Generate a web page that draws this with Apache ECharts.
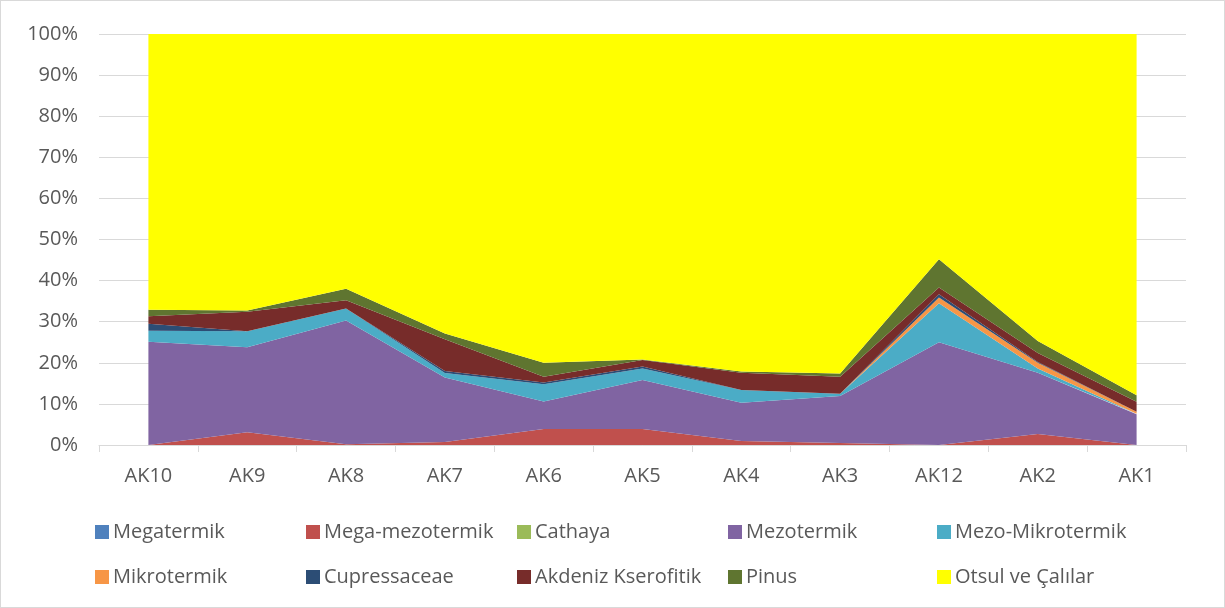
<!DOCTYPE html>
<html>
<head>
<meta charset="utf-8">
<script src="https://cdn.jsdelivr.net/npm/echarts@6/dist/echarts.min.js"></script>
<style>
  html, body { margin: 0; padding: 0; background: #fff; }
  #chart { width: 1225px; height: 608px; box-sizing: border-box; border: 1px solid #d9d9d9; }
</style>
</head>
<body>
<div id="chart"></div>
<script>
// Sample sites (x axis)
const categories = ['AK10', 'AK9', 'AK8', 'AK7', 'AK6', 'AK5', 'AK4', 'AK3', 'AK12', 'AK2', 'AK1'];

// Share of each pollen group per site (%)
const megatermik     = [0, 0, 0, 0, 0, 0, 0, 0, 0, 0, 0];
const megaMezotermik = [0, 3.1, 0.2, 0.7, 3.9, 3.9, 1.0, 0.5, 0, 2.7, 0];
const cathaya        = [0, 0, 0, 0, 0, 0, 0, 0, 0, 0, 0];
const mezotermik     = [25.1, 20.7, 30.1, 15.7, 6.7, 11.9, 9.3, 11.4, 25.0, 14.9, 7.5];
const mezoMikrotermik= [2.7, 3.9, 2.9, 1.1, 4.2, 2.8, 3.1, 0.6, 9.5, 1.0, 0.1];
const mikrotermik    = [0, 0, 0, 0, 0, 0, 0, 0, 1.4, 1.4, 0.5];
const cupressaceae   = [1.7, 0, 0, 0.5, 0.4, 0.5, 0, 0, 0.8, 0.2, 0];
const akdenizKserofitik = [1.8, 4.7, 2.0, 7.7, 1.4, 1.6, 4.2, 4.1, 1.6, 2.2, 2.4];
const pinus          = [1.6, 0.3, 2.8, 1.4, 3.4, 0.1, 0.3, 0.8, 6.9, 2.9, 1.6];
const otsulVeCalilar = [67.1, 67.3, 62.0, 72.9, 80.0, 79.2, 82.1, 82.6, 54.8, 74.7, 87.9];

// Y axis tick values (%)
const yTicks = [0, 10, 20, 30, 40, 50, 60, 70, 80, 90, 100];

const groups = [
  { name: 'Megatermik',        data: megatermik,        color: '#4F81BD' },
  { name: 'Mega-mezotermik',   data: megaMezotermik,    color: '#C0504D' },
  { name: 'Cathaya',           data: cathaya,           color: '#9BBB59' },
  { name: 'Mezotermik',        data: mezotermik,        color: '#8064A2' },
  { name: 'Mezo-Mikrotermik',  data: mezoMikrotermik,   color: '#4BACC6' },
  { name: 'Mikrotermik',       data: mikrotermik,       color: '#F79646' },
  { name: 'Cupressaceae',      data: cupressaceae,      color: '#2C4D75' },
  { name: 'Akdeniz Kserofitik',data: akdenizKserofitik, color: '#772C2A' },
  { name: 'Pinus',             data: pinus,             color: '#5F7530' },
  { name: 'Otsul ve Çalılar',  data: otsulVeCalilar,    color: '#FFFF00' }
];

const textColor = '#595959';
const fontFamily = 'Open Sans, Liberation Sans, Arial, sans-serif';

// One legend entry per slot, laid out in a 5 x 2 grid
const legendCols = [89, 300, 511, 722, 931];
const legendRows = [516, 561];
const legends = groups.map((g, i) => ({
  data: [g.name],
  left: legendCols[i % 5],
  top: legendRows[Math.floor(i / 5)],
  itemWidth: 14,
  itemHeight: 14,
  itemGap: 0,
  icon: 'rect',
  textStyle: { color: textColor, fontSize: 20, fontFamily: fontFamily, padding: [0, 0, 0, -1] }
}));

const chart = echarts.init(document.getElementById('chart'), null, { renderer: 'canvas' });
chart.setOption({
  animation: false,
  backgroundColor: '#ffffff',
  grid: { left: 98, right: 38, top: 33, bottom: 162 },
  legend: legends,
  xAxis: {
    type: 'category',
    data: categories,
    boundaryGap: true,
    axisLine: { lineStyle: { color: '#d9d9d9', width: 1 } },
    axisTick: { show: true, length: 7, lineStyle: { color: '#d9d9d9' } },
    axisLabel: { color: textColor, fontSize: 20, fontFamily: fontFamily, margin: 21 }
  },
  yAxis: {
    type: 'value',
    min: yTicks[0],
    max: yTicks[yTicks.length - 1],
    interval: yTicks[1] - yTicks[0],
    axisLine: { show: false },
    axisTick: { show: false },
    splitLine: { lineStyle: { color: '#d9d9d9', width: 1 } },
    axisLabel: { color: textColor, fontSize: 20, fontFamily: fontFamily, margin: 21, formatter: '{value}%' }
  },
  series: groups.map(g => ({
    name: g.name,
    type: 'line',
    stack: 'total',
    data: g.data,
    symbol: 'none',
    lineStyle: { width: 0 },
    areaStyle: { color: g.color, opacity: 1 },
    itemStyle: { color: g.color },
    emphasis: { disabled: true }
  }))
});
</script>
</body>
</html>
